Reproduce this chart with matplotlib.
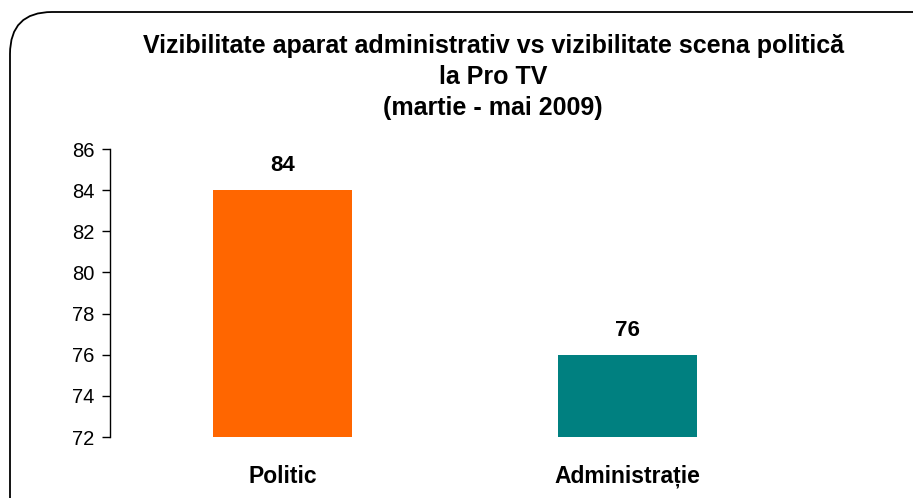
import matplotlib.pyplot as plt
from matplotlib.patches import FancyBboxPatch

categories = ["Politic", "Administrație"]
values = [84, 76]
colors = ["#FF6600", "#008080"]
yticks = [72, 74, 76, 78, 80, 82, 84, 86]
title = "Vizibilitate aparat administrativ vs vizibilitate scena politică\nla Pro TV\n(martie - mai 2009)"

plt.rcParams['font.family'] = ['Liberation Sans', 'DejaVu Sans']

fig = plt.figure(figsize=(9.13, 4.98), dpi=100)
W, H = 913, 498
ax = fig.add_axes([110 / W, (H - 437) / H, (800 - 110) / W, (437 - 149) / H])

x = range(len(categories))
ax.bar(x, [v - 72 for v in values], bottom=72, width=0.405, color=colors)
for i, v in enumerate(values):
    ax.text(i, v + 0.68, str(v), ha='center', va='bottom', fontsize=16, fontweight='bold')

ax.set_ylim(72, 86)
ax.set_xlim(-0.5, 1.5)
ax.set_yticks(yticks)
ax.set_yticklabels([str(t) for t in yticks], fontsize=14.5)
ax.set_xticks(list(x))
ax.set_xticklabels(categories, fontsize=16.5, fontweight='bold')
ax.tick_params(axis='x', length=0, pad=20)
ax.tick_params(axis='y', length=6, width=1, pad=5)
for s in ['top', 'right', 'bottom']:
    ax.spines[s].set_visible(False)
ax.spines['left'].set_linewidth(1)

fig.text(493 / W, 1 - 34 / H, title, ha='center', va='top', fontsize=18,
         fontweight='bold', linespacing=1.38)

# rounded frame, running off the right and bottom edges
frame = FancyBboxPatch((0.1, -1.0), 10.0, 4.86 + 1.0,
                       boxstyle="round,pad=0,rounding_size=0.42",
                       transform=fig.dpi_scale_trans, fill=False, ec='black', lw=1.3)
fig.patches.append(frame)

fig.savefig("out.png", dpi=100)
